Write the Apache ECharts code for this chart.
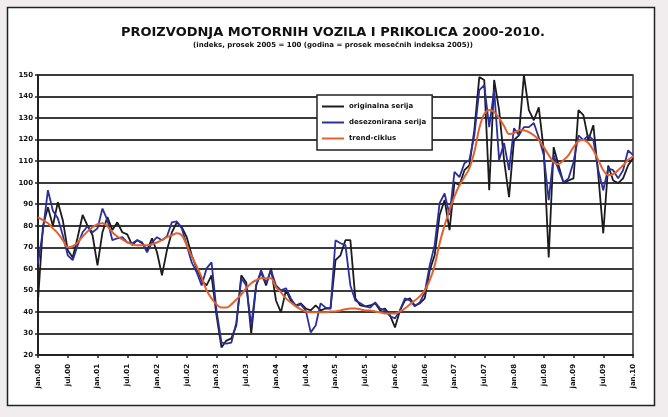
<!DOCTYPE html>
<html>
<head>
<meta charset="utf-8">
<script src="https://cdn.jsdelivr.net/npm/echarts@6/dist/echarts.min.js"></script>
<style>
html,body{margin:0;padding:0;background:#f1edef;}
#c{position:absolute;left:0;top:0;width:668px;height:417px;}
</style>
</head>
<body>
<div id="c"></div>
<script>
// Monthly periods, Jan 2000 .. Jan 2010
const monthNames = ['jan','feb','mar','apr','maj','jun','jul','avg','sep','okt','nov','dec'];
const categories = [];
for (let y = 2000; y <= 2010; y++) {
  for (let m = 0; m < 12; m++) {
    if (y === 2010 && m > 0) break;
    categories.push(monthNames[m] + '.' + String(y).slice(2));
  }
}

const originalna = [
  45.3, 80, 88.6, 80, 91, 82.6, 68.6, 65.3, 74.7, 85,
  80, 75.6, 61.6, 77, 84, 78, 81.6, 77, 76, 71,
  73.3, 71.9, 68.6, 74.2, 67.7, 57, 68.6, 77, 81.6, 79.3,
  74.7, 66.3, 60.2, 54.7, 52.3, 57, 38.4, 23.5, 26.7, 27.7,
  33.7, 57, 53.7, 30, 52.3, 58.4, 52.3, 60.2, 45.3, 39.8,
  50, 45.3, 43, 44, 41.6, 40.7, 43, 40.7, 41.6, 41.6,
  64, 66.3, 73.3, 73.3, 46.3, 43, 42.6, 43, 44, 40.7,
  41.6, 38.4, 32.8, 40.7, 45.3, 46.3, 43, 44, 46.3, 59.3,
  66.3, 85, 92, 78, 100.2, 98.8, 105.8, 108, 124.4, 149,
  147.7, 96.5, 147.7, 133.7, 110.5, 93.3, 119.8, 122, 150, 133.7,
  129, 135, 115, 65.3, 116.5, 108, 99.8, 101, 102, 133.7,
  131.4, 119.8, 126.7, 103.5, 76.5, 108, 101, 99.8, 102, 108,
  111.4
];

const desezonirana = [
  62.5, 77.7, 96.5, 87, 83.5, 75.6, 66.3, 64, 71, 77,
  79.8, 77, 78.8, 88, 82.6, 73.3, 74.2, 74.7, 72.3, 71.9,
  73.3, 72.3, 67.7, 72.3, 74.7, 73.3, 75, 81.6, 82, 78.8,
  71, 63, 58.4, 52.3, 60.2, 63, 40.7, 25.8, 25.3, 25.8,
  35, 55.6, 52.3, 33.7, 52.3, 59.3, 53.3, 59.3, 52.3, 50,
  51, 46.3, 42.6, 43.5, 40.7, 30.5, 33.7, 44, 42, 41.6,
  73.3, 71.9, 71, 52.3, 45.3, 44, 42.6, 42, 44.4, 41.6,
  40.7, 38, 37, 40.7, 46.3, 45.3, 42.6, 44.4, 49, 61.6,
  71, 90.5, 95, 85, 105, 102.6, 109, 110.5, 122, 143,
  145.3, 125.8, 143, 110.5, 118.4, 105.8, 125.3, 122, 125.8, 125.8,
  127.7, 121, 112.8, 91.9, 112.8, 105.8, 100.2, 102, 109.5, 122,
  119.8, 122, 119.8, 105.8, 96.5, 106.7, 105.8, 102, 105.8, 115,
  112.8
];

const trendCiklus = [
  84, 82.6, 81.2, 78.8, 76.5, 73.3, 70, 70.5, 72.3, 75,
  77.4, 79.3, 80.7, 81.2, 79.8, 77, 75, 73.7, 72.3, 71.4,
  70.9, 70.9, 70.9, 71.4, 72.3, 73.3, 74.7, 75.6, 76.5, 75.6,
  70.9, 65.8, 61.2, 56, 50, 46.3, 43.5, 42, 42, 43.5,
  45.8, 48.1, 51, 53.3, 54.7, 55.6, 55.6, 55.6, 51.4, 49.1,
  46.3, 44.4, 42.6, 41.2, 40.2, 39.8, 39.8, 39.8, 39.8, 40.2,
  40.2, 40.7, 41.2, 41.6, 41.6, 41.2, 40.7, 40.7, 40.2, 39.8,
  39.3, 39.3, 39.3, 40.2, 41.6, 43.5, 45.3, 47.2, 50, 54.7,
  61.6, 71.9, 80.2, 87.2, 93.7, 98.8, 102.6, 106.7, 114.2, 125.3,
  131.9, 133.7, 132.8, 130, 126.3, 122.6, 123, 124.4, 124.4, 123.5,
  122, 119.8, 116.5, 112.8, 109.5, 108.6, 110.5, 112.8, 116.5, 119.3,
  119.8, 118.4, 115.1, 110.5, 105.8, 103.5, 104, 105.8, 108.1, 110.5,
  112.3
];

const seriesNames = ['originalna serija', 'desezonirana serija', 'trend-ciklus'];
const seriesColors = ['#1c1c1c', '#2b2f9c', '#e2622e'];
const yMin = 20, yMax = 150, yStep = 10;

const chart = echarts.init(document.getElementById('c'), null, {renderer: 'canvas'});
chart.setOption({
  backgroundColor: '#f1edef',
  animation: false,
  graphic: [{
    type: 'rect', z: -10, silent: true,
    shape: {x: 7.5, y: 7.5, width: 647, height: 398},
    style: {fill: '#ffffff', stroke: '#222', lineWidth: 1.5}
  }],
  title: {
    text: 'PROIZVODNJA MOTORNIH VOZILA I PRIKOLICA 2000-2010.',
    subtext: '(indeks, prosek 2005 = 100 (godina = prosek mesečnih indeksa 2005))',
    left: 328, textAlign: 'center', top: 21, itemGap: 3,
    textStyle: {fontFamily: 'DejaVu Sans', fontWeight: 900, fontSize: 13, color: '#111'},
    subtextStyle: {fontFamily: 'DejaVu Sans', fontWeight: 'bold', fontSize: 7, color: '#111'}
  },
  legend: {
    data: seriesNames,
    orient: 'vertical',
    left: 317, top: 95,
    padding: [8, 6, 8, 5],
    itemGap: 9,
    itemWidth: 22, itemHeight: 9,
    backgroundColor: '#fff',
    borderColor: '#222', borderWidth: 1.5,
    icon: 'path://M0,3.5 L22,3.5 L22,5.5 L0,5.5 Z',
    textStyle: {fontFamily: 'DejaVu Sans', fontWeight: 'bold', fontSize: 7, color: '#111'}
  },
  grid: {
    left: 38, right: 35, top: 75, bottom: 62,
    show: true, borderColor: '#333', borderWidth: 1.5, backgroundColor: '#fff'
  },
  xAxis: {
    type: 'category',
    data: categories,
    boundaryGap: false,
    axisLine: {lineStyle: {color: '#222', width: 2}},
    axisTick: {interval: 5, length: 3, lineStyle: {color: '#222', width: 1.5}},
    axisLabel: {
      interval: 5, rotate: 90, margin: 9,
      fontFamily: 'DejaVu Sans', fontWeight: 'bold', fontSize: 7, color: '#111'
    }
  },
  yAxis: {
    type: 'value',
    min: yMin, max: yMax, interval: yStep,
    axisLine: {show: true, lineStyle: {color: '#222', width: 2}},
    axisTick: {show: true, length: 3, lineStyle: {color: '#222', width: 1.5}},
    splitLine: {lineStyle: {color: '#3a3a3a', width: 2}},
    axisLabel: {
      margin: 5,
      fontFamily: 'DejaVu Sans', fontWeight: 'bold', fontSize: 7, color: '#111'
    }
  },
  series: [
    {name: seriesNames[0], type: 'line', data: originalna, showSymbol: false,
     lineStyle: {color: seriesColors[0], width: 1.8}, itemStyle: {color: seriesColors[0]}, z: 3},
    {name: seriesNames[1], type: 'line', data: desezonirana, showSymbol: false,
     lineStyle: {color: seriesColors[1], width: 1.8}, itemStyle: {color: seriesColors[1]}, z: 4},
    {name: seriesNames[2], type: 'line', data: trendCiklus, showSymbol: false, smooth: 0.3,
     lineStyle: {color: seriesColors[2], width: 2}, itemStyle: {color: seriesColors[2]}, z: 5}
  ]
});
</script>
</body>
</html>
